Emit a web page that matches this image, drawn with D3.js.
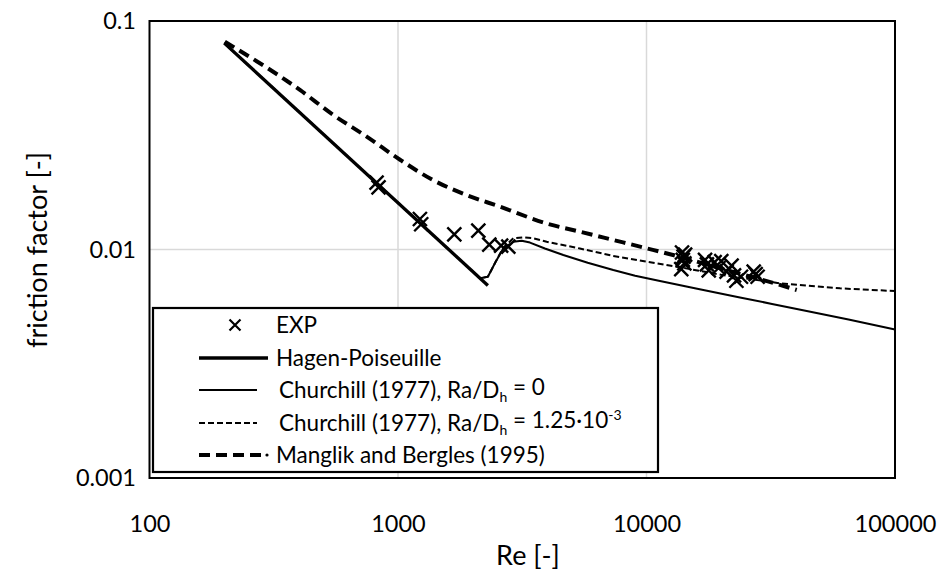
<!DOCTYPE html>
<html>
<head>
<meta charset="utf-8">
<script src="https://cdn.jsdelivr.net/npm/d3@7/dist/d3.min.js"></script>
<style>
  html, body { margin: 0; padding: 0; background: #fff; }
  svg { display: block; font-family: Lato, "Open Sans", sans-serif; }
</style>
</head>
<body>
<svg id="chart" width="937" height="574"></svg>
<script>
// Axis ticks
const reTicks = [100, 1000, 10000, 100000];
const fTicks = [0.001, 0.01, 0.1];

// Experimental friction factors
const expRe = [820, 835, 1225, 1240, 1685, 2105, 2330, 2600, 2780,
  13900, 14100, 14000, 14200, 13800, 14300,
  17200, 17500, 17800, 18800, 19500, 20000, 21000, 22000, 22500, 23000, 24000, 27000, 27500, 28000];
const expF = [0.0196, 0.0187, 0.0136, 0.0129, 0.01165, 0.0121, 0.0105, 0.0104, 0.0103,
  0.0097, 0.0093, 0.0090, 0.0087, 0.0082, 0.0095,
  0.0090, 0.0086, 0.0081, 0.0088, 0.0083, 0.0089, 0.0080, 0.0085, 0.0077, 0.0073, 0.0076, 0.0080, 0.0078, 0.0076];

// Hagen-Poiseuille (laminar)
const hpRe = [200, 2300];
const hpF = [0.08, 0.00696];

// Churchill (1977), Ra/Dh = 0
const ch0Re = [200, 2140, 2300, 2472, 2653, 2911, 3147, 3397, 3900, 4626, 5800, 7351, 9000, 11330, 16000, 23770, 32000, 44130, 65000, 100000];
const ch0F = [0.08, 0.00748, 0.0076, 0.00884, 0.0101, 0.01081, 0.01092, 0.01072, 0.0101, 0.00946, 0.00875, 0.00813, 0.00768, 0.00728, 0.00674, 0.00617, 0.00578, 0.00538, 0.00494, 0.00447];

// Churchill (1977), Ra/Dh = 1.25e-3
const ch1Re = [200, 2140, 2300, 2472, 2653, 2911, 3193, 3500, 3967, 5396, 7347, 10020, 13230, 20000, 34420, 60070, 100000];
const ch1F = [0.08, 0.00748, 0.0076, 0.00884, 0.0102, 0.01119, 0.01131, 0.0112, 0.01081, 0.0101, 0.00937, 0.00884, 0.00841, 0.00775, 0.00711, 0.00676, 0.00658];

// Manglik and Bergles (1995)
const mbRe = [201, 403, 549, 748, 1019, 1387, 1890, 2574, 3964, 5396, 7347, 10020, 12786, 20000, 34420, 40220];
const mbF = [0.0812, 0.0499, 0.0388, 0.0312, 0.0247, 0.0201, 0.0173, 0.0154, 0.0130, 0.01197, 0.01101, 0.01012, 0.00946, 0.00825, 0.0070, 0.00665];

const svg = d3.select("#chart");
const x = d3.scaleLog().domain([100, 100000]).range([149.5, 895]);
const y = d3.scaleLog().domain([0.001, 0.1]).range([478, 21]);

// Grid lines
const grid = svg.append("g");
grid.selectAll("line.v").data(reTicks.slice(1, -1)).join("line")
  .attr("x1", d => x(d)).attr("x2", d => x(d))
  .attr("y1", y(0.1)).attr("y2", y(0.001))
  .attr("stroke", "#d9d9d9").attr("stroke-width", 1.5);
grid.selectAll("line.h").data(fTicks.slice(1, -1)).join("line")
  .attr("x1", x(100)).attr("x2", x(100000))
  .attr("y1", d => y(d)).attr("y2", d => y(d))
  .attr("stroke", "#d9d9d9").attr("stroke-width", 1.5);

// Axes
const fmtX = d => String(d);
const fmtY = d => d === 0.001 ? "0.001" : d === 0.01 ? "0.01" : "0.1";
const xAxis = svg.append("g").attr("transform", `translate(0,${y(0.001)})`)
  .call(d3.axisBottom(x).tickValues(reTicks).tickFormat(fmtX).tickSize(0).tickPadding(37));
const yAxis = svg.append("g").attr("transform", `translate(${x(100)},0)`)
  .call(d3.axisLeft(y).tickValues(fTicks).tickFormat(fmtY).tickSize(0).tickPadding(13.5));
[xAxis, yAxis].forEach(a => {
  a.select(".domain").remove();
  a.selectAll("text").attr("font-size", 23.5).attr("fill", "#000")
    .attr("font-family", "Lato, 'Open Sans', sans-serif");
});

// Curves
const lineOf = (re, f, curve) => d3.line().curve(curve)
  .x(i => x(re[i])).y(i => y(f[i]))(d3.range(re.length));
const curves = svg.append("g").attr("fill", "none").attr("stroke", "#000");
curves.append("path").attr("d", lineOf(mbRe, mbF, d3.curveMonotoneX))
  .attr("stroke-width", 4).attr("stroke-dasharray", "11,6");
curves.append("path").attr("d", lineOf(ch1Re, ch1F, d3.curveLinear))
  .attr("stroke-width", 2).attr("stroke-dasharray", "6,3");
curves.append("path").attr("d", lineOf(ch0Re, ch0F, d3.curveLinear))
  .attr("stroke-width", 2).attr("stroke-linejoin", "round");
curves.append("path").attr("d", lineOf(hpRe, hpF, d3.curveLinear))
  .attr("stroke-width", 3.3);

// Experimental markers
const cross = (cx, cy, r) => `M${cx - r},${cy - r}L${cx + r},${cy + r}M${cx - r},${cy + r}L${cx + r},${cy - r}`;
svg.append("g").selectAll("path").data(d3.range(expRe.length)).join("path")
  .attr("d", i => cross(x(expRe[i]), y(expF[i]), 7))
  .attr("stroke", "#000").attr("stroke-width", 2.4).attr("fill", "none");

// Plot frame
svg.append("rect")
  .attr("x", x(100)).attr("y", y(0.1))
  .attr("width", x(100000) - x(100)).attr("height", y(0.001) - y(0.1))
  .attr("fill", "none").attr("stroke", "#000").attr("stroke-width", 2);

// Legend
const lg = svg.append("g").attr("font-size", 22.5).attr("fill", "#000");
lg.append("rect").attr("x", 153).attr("y", 308).attr("width", 505).attr("height", 164)
  .attr("fill", "#fff").attr("stroke", "#000").attr("stroke-width", 2.2);
const rows = [325, 358, 390, 423, 455];
lg.append("path").attr("d", cross(235, rows[0], 5.5)).attr("stroke", "#000").attr("stroke-width", 2.2);
lg.append("line").attr("x1", 199).attr("x2", 268).attr("y1", rows[1]).attr("y2", rows[1])
  .attr("stroke", "#000").attr("stroke-width", 3.3);
lg.append("line").attr("x1", 199).attr("x2", 257).attr("y1", rows[2]).attr("y2", rows[2])
  .attr("stroke", "#000").attr("stroke-width", 2);
lg.append("line").attr("x1", 199).attr("x2", 257).attr("y1", rows[3]).attr("y2", rows[3])
  .attr("stroke", "#000").attr("stroke-width", 2).attr("stroke-dasharray", "6,3");
lg.append("line").attr("x1", 199).attr("x2", 264).attr("y1", rows[4]).attr("y2", rows[4])
  .attr("stroke", "#000").attr("stroke-width", 4).attr("stroke-dasharray", "11,6");
lg.append("circle").attr("cx", 267).attr("cy", rows[4]).attr("r", 1.6).attr("fill", "#000");

const addText = (tx, ty) => lg.append("text").attr("x", tx).attr("y", ty).attr("dy", "0.35em");
addText(276, rows[0]).text("EXP");
addText(276, rows[1]).text("Hagen-Poiseuille");
const t3 = addText(279, rows[2]);
t3.append("tspan").text("Churchill (1977), Ra/D");
t3.append("tspan").attr("font-size", 14).attr("dy", "0.3em").text("h");
t3.append("tspan").attr("dy", "-0.3em").text(" = 0");
const t4 = addText(279, rows[3]);
t4.append("tspan").text("Churchill (1977), Ra/D");
t4.append("tspan").attr("font-size", 14).attr("dy", "0.3em").text("h");
t4.append("tspan").attr("dy", "-0.3em").text(" = 1.25·10");
t4.append("tspan").attr("font-size", 14).attr("dy", "-0.6em").text("-3");
addText(276, rows[4]).text("Manglik and Bergles (1995)");

// Axis titles
svg.append("text").attr("x", 528).attr("y", 556).attr("dy", "0.35em")
  .attr("text-anchor", "middle").attr("font-size", 27).text("Re [-]");
svg.append("text").attr("transform", "translate(38,250) rotate(-90)").attr("dy", "0.35em")
  .attr("text-anchor", "middle").attr("font-size", 27).text("friction factor [-]");
</script>
</body>
</html>
